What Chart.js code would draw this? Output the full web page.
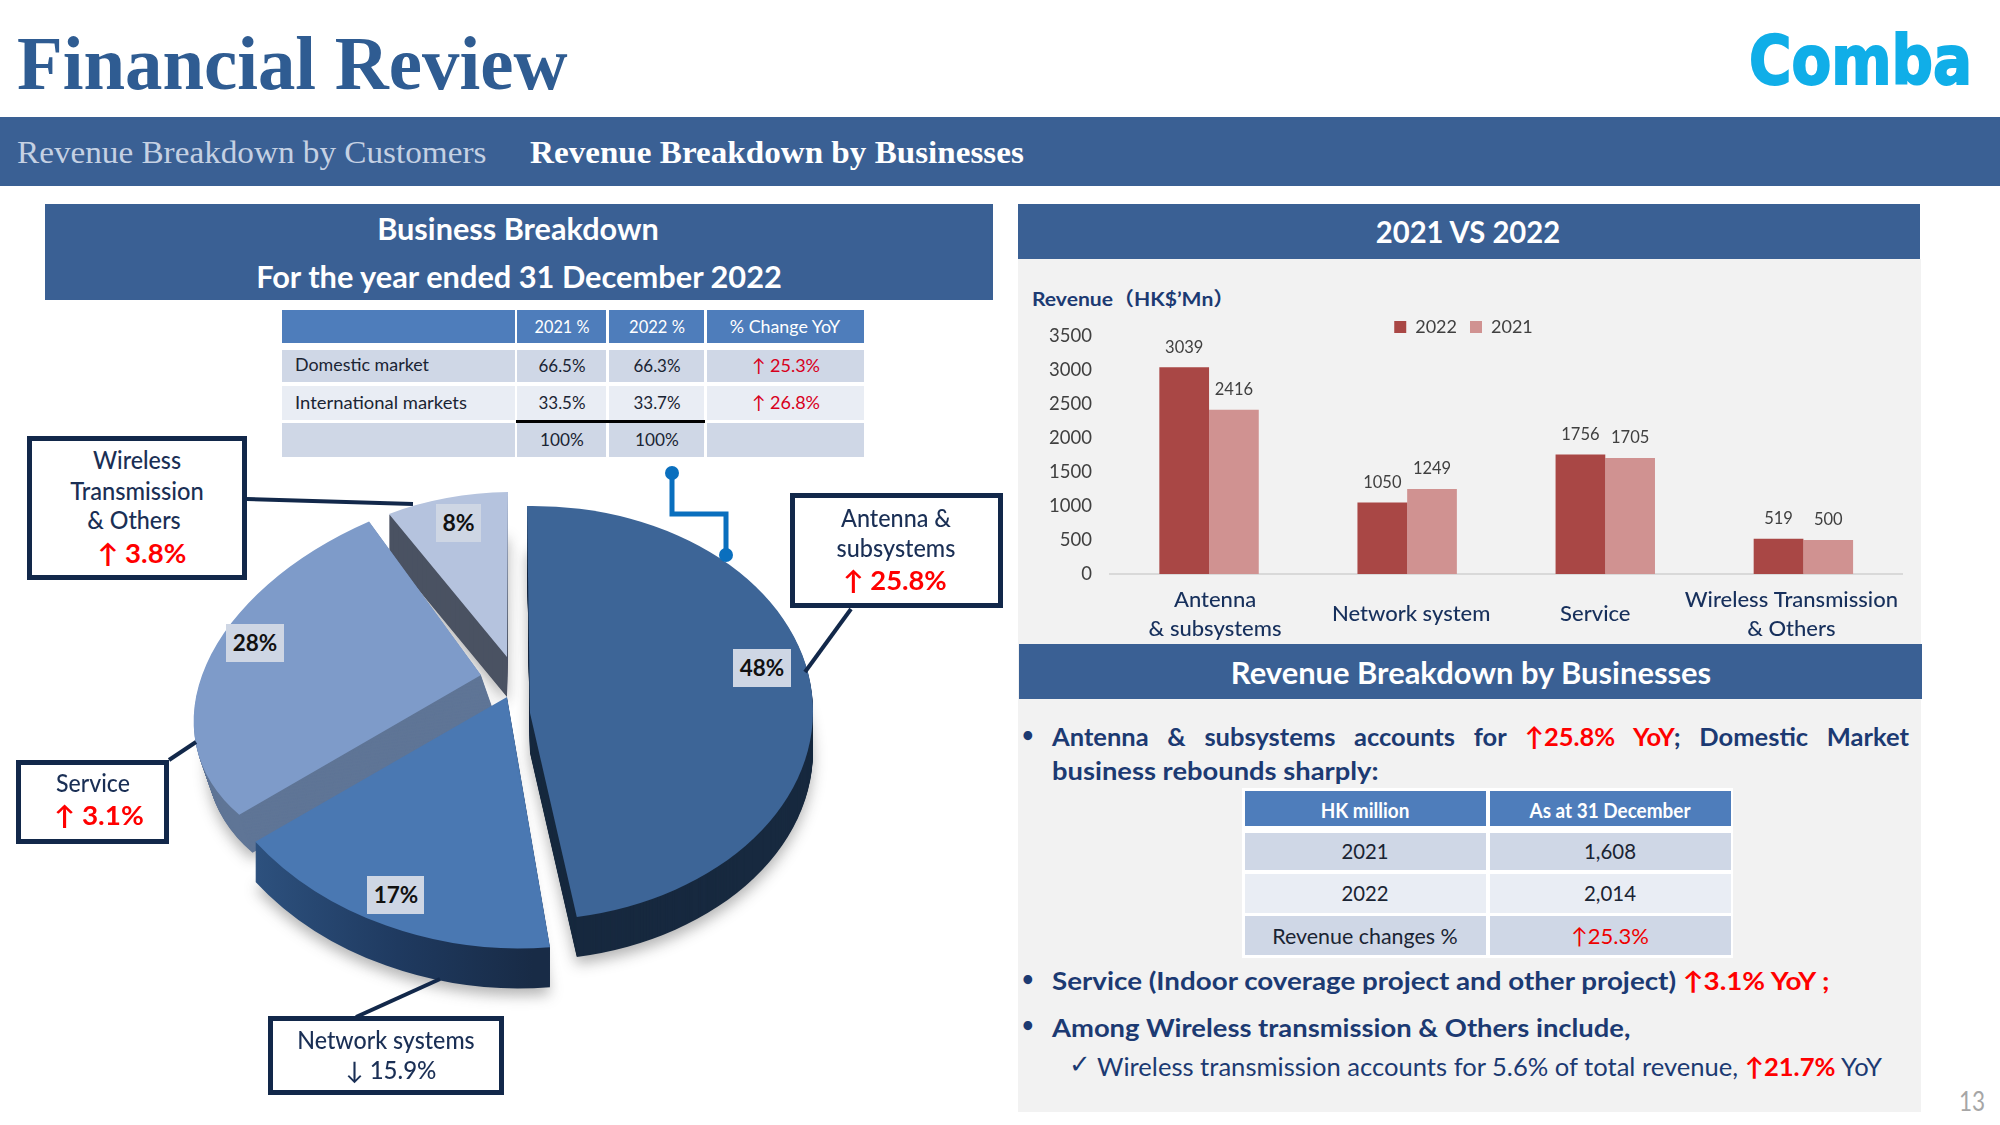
<!DOCTYPE html>
<html><head><meta charset="utf-8">
<script src="https://cdn.jsdelivr.net/npm/chart.js@4"></script>
<style>
html,body{margin:0;padding:0;background:#fff}
#s{position:relative;width:2000px;height:1125px;overflow:hidden;background:#fff;font-family:Lato,"Noto Sans CJK SC",sans-serif}
#s div{position:absolute;box-sizing:border-box}
#s canvas{position:absolute}
.r{color:#f00;font-weight:700}
</style></head><body><div id="s"></div>
<script>
// ---------- chart data ----------
const pieLabels=['Antenna & subsystems','Network systems','Service','Wireless Transmission & Others'];
const pieValues=[48,17,28,8];
const barCategories=[['Antenna','& subsystems'],'Network system','Service',['Wireless Transmission','& Others']];
const revenue2022=[3039,1050,1756,519];
const revenue2021=[2416,1249,1705,500];
const yTicks=[0,500,1000,1500,2000,2500,3000,3500];
// ---------- table data ----------
const marketHead=['','2021 %','2022 %','% Change YoY'];
const marketRows=[['Domestic market','66.5%','66.3%','25.3%'],['International markets','33.5%','33.7%','26.8%'],['','100%','100%','']];
const hkHead=['HK million','As at 31 December'];
const hkRows=[['2021','1,608'],['2022','2,014'],['Revenue changes %','↑25.3%']];
// ---------- styles ----------
const NAVY='#1c3a72',BOX='#12284a',HEAD='#3a6094',TH='#4e7dbb',R1='#cfd7e6',R2='#e9edf4';
const S=document.getElementById('s');
function rect(x,y,w,h,bg,extra){const d=document.createElement('div');d.style.cssText=`left:${x}px;top:${y}px;width:${w}px;height:${h}px;background:${bg};${extra||''}`;S.appendChild(d);return d;}
function T(html,x,y,o){o=o||{};const d=document.createElement('div');
 d.innerHTML=html;const c=o.align==='c';
 d.style.cssText=`left:${x}px;top:${y}px;white-space:nowrap;font-size:${o.size||20}px;color:${o.color||'#222'};font-weight:${o.weight||400};line-height:1.2;font-family:${o.font||'Lato,"Noto Sans CJK SC",sans-serif'};${o.extra||''}`;
 S.appendChild(d);
 let k=1;if(o.w){k=o.w/d.offsetWidth;}
 d.style.transformOrigin=c?'center center':'left center';
 d.style.transform=(c?'translate(-50%,-50%)':'translateY(-50%)')+` scaleX(${k})`;
 return d;}
const SERIF='"Liberation Serif",serif';
// header
T('Financial Review',17,64,{size:76,w:550,weight:700,font:SERIF,color:'#2f5c92'});
T('Comba',1749,61,{size:68,w:223,weight:700,font:'"DejaVu Sans"',color:'#10aee8',extra:'-webkit-text-stroke:2px #10aee8;'});
rect(0,117,2000,69,HEAD);
T('Revenue Breakdown by Customers',17,152,{size:32,w:469,font:SERIF,color:'#c5d1e3'});
T('Revenue Breakdown by Businesses',530,152,{size:32,w:494,weight:700,font:SERIF,color:'#fff'});
rect(45,204,948,96,HEAD);
T('Business Breakdown',518,228,{align:'c',size:30,w:282,weight:700,color:'#fff'});
T('For the year ended 31 December 2022',519,276,{align:'c',size:30,w:526,weight:700,color:'#fff'});
// market table
const mc=[[282,233],[517,89],[609,95],[707,157]];
const my=[[350,32],[386,34],[423,34]];
mc.forEach((c,i)=>rect(c[0],310,c[1],33,TH));
T(marketHead[1],562,327,{align:'c',size:18,w:55,color:'#fff'});
T(marketHead[2],657,327,{align:'c',size:18,w:56,color:'#fff'});
T(marketHead[3],785,327,{align:'c',size:18,w:110,color:'#fff'});
marketRows.forEach((row,r)=>{mc.forEach(c=>rect(c[0],my[r][0],c[1],my[r][1],r===1?R2:R1));
 const y=my[r][0]+my[r][1]/2;
 if(row[0])T(row[0],295,y-(r?0:1),{size:18,w:r?172:134,color:'#1a2433'});
 T(row[1],562,y,{align:'c',size:18,w:r==2?44:47,color:'#1a2433'});
 T(row[2],657,y,{align:'c',size:18,w:r==2?44:47,color:'#1a2433'});
 if(row[3])T('↑ '+row[3],786,y,{align:'c',size:18,w:68,color:'#d8001c'});});
rect(516,420,189,3,'#000');
// right panels
rect(1018,259,903,853,'#f2f2f2');
rect(1018,204,902,55,HEAD);
T('2021 VS 2022',1468,231,{align:'c',size:30,w:184,weight:700,color:'#fff'});
rect(1019,644,903,55,HEAD);
T('Revenue Breakdown by Businesses',1471,672,{align:'c',size:30,w:480,weight:700,color:'#fff'});
T('Revenue（HK$’Mn）',1032,299,{size:19,w:202,weight:700,color:NAVY});
// bar chart canvas
const barWrap=document.createElement('canvas');barWrap.width=906;barWrap.height=349;barWrap.style.cssText='left:1020px;top:295px;width:906px;height:349px';S.appendChild(barWrap);
const tickShift=[6,4,-10,-12];
const barValueLabels={id:'barValueLabels',afterDatasetsDraw(ch){const c=ch.ctx;c.save();c.font='16.5px Lato';c.fillStyle='#404040';c.textAlign='center';c.textBaseline='middle';
 ch.data.datasets.forEach((ds,i)=>{ch.getDatasetMeta(i).data.forEach((el,j)=>c.fillText(ds.data[j],el.x,el.y-20));});c.restore();}};
const moveLegend={id:'moveLegend',afterLayout(ch){const l=ch.legend;l.left+=-3;l.right+=-3;l.top+=10;l.bottom+=10;}};
new Chart(barWrap,{type:'bar',plugins:[barValueLabels,moveLegend],data:{labels:barCategories,datasets:[
 {label:'2022',data:revenue2022,backgroundColor:'#a94745',borderWidth:0},
 {label:'2021',data:revenue2021,backgroundColor:'#d09291',borderWidth:0}]},
 options:{responsive:false,animation:false,events:[],layout:{padding:{right:13,top:0,bottom:0,left:0}},
 datasets:{bar:{barPercentage:1,categoryPercentage:0.54}},
 plugins:{tooltip:{enabled:false},legend:{position:'top',labels:{boxWidth:12,boxHeight:12,padding:13,color:'#404040',font:{family:'Lato',size:18}}}},
 scales:{y:{min:0,max:3500,afterFit(s){s.width=90;},afterBuildTicks(s){s.ticks=yTicks.map(v=>({value:v}));},grid:{display:false,drawTicks:false},border:{display:false},ticks:{padding:18,color:'#404040',font:{family:'Lato',size:18.5},callback:v=>String(v)}},
 x:{afterFit(s){s.height=70;},afterBuildTicks(s){if(!s._shifted){const b=s.getPixelForTick;s.getPixelForTick=function(i){return b.call(s,i)+(tickShift[i]||0);};s._shifted=true;}},
 grid:{display:false,drawTicks:false},border:{display:true,color:'#d9d9d9',width:2},
 ticks:{padding:26,autoSkip:false,maxRotation:0,crossAlign:'center',color:'#17305c',font:{family:'Lato',size:22,weight:'500',lineHeight:1.3}}}}}});
// bullets
[736,980,1026].forEach(y=>T('•',1022,y-2,{size:20,color:NAVY,weight:700}));
const red=t=>`<span class="r">${t}</span>`;
T(`Antenna &amp; subsystems accounts for ${red('↑25.8% YoY')}; Domestic Market`,1052,736,{size:25.5,weight:700,color:NAVY,extra:'width:857px;white-space:normal;text-align:justify;text-align-last:justify;'});
T('business rebounds sharply:',1052,770,{size:25,w:327,weight:700,color:NAVY});
T(`Service (Indoor coverage project and other project) ${red('↑3.1% YoY ;')}`,1052,980,{size:25,w:777,weight:700,color:NAVY});
T('Among Wireless transmission &amp; Others include,',1052,1027,{size:25,w:578,weight:700,color:NAVY});
T('✓',1069,1065,{size:26,color:NAVY,font:'"DejaVu Sans"'});
T(`Wireless transmission accounts for 5.6% of total revenue, ${red('↑21.7%')} YoY`,1097,1066,{size:25,w:785,color:NAVY});
T('13',1959,1102,{size:26,w:26,color:'#a6a6a6'});
// HK table
rect(1242,788,491,170,'#fff');
const hc=[[1245,241],[1490,241]];
hc.forEach((c,i)=>{rect(c[0],791,c[1],35,TH);T(hkHead[i],i?1610:1365,810,{align:'c',size:20,w:i?161:89,weight:700,color:'#fff'});});
const hy=[[833,37],[874,39],[916,39]];
const hw=[[47,52],[47,52],[186,78]];
const hyText=[851,893,936];
hkRows.forEach((row,r)=>{hc.forEach((c,i)=>{rect(c[0],hy[r][0],c[1],hy[r][1],r===1?R2:R1);
 T(row[i],i?1610:1365,hyText[r],{align:'c',size:22,w:hw[r][i],color:(r==2&&i)?'#e00':'#1a2433'});});});
// ---------- pie chart ----------
// Screen projection of each exploded slice: origin and a 2x2 linear map that fakes the tilted 3-D view.
const sliceView=[
 {ox:530,oy:713,a:283,b:3,c:-4,d:207},
 {ox:507,oy:697,a:316,b:-6,c:14,d:251},
 {ox:481,oy:675,a:286,b:-28,c:-28,d:190},
 {ox:507,oy:657,a:249,b:-1,c:-4,d:165}];
const sliceDepth=[40,40,38,40];
const sliceLean=[0,0,.35,0];
const paintOrder=[3,2,1,0];
const CL=120,CT=460,CW=760,CH=600;
const pc=document.createElement('canvas');pc.width=CW;pc.height=CH;pc.style.cssText=`left:${CL}px;top:${CT}px;width:${CW}px;height:${CH}px`;S.appendChild(pc);
const wallColors=['#17293f','#1f3a60','#5f7596','#4a5262'];
const pie3d={id:'pie3d',beforeDatasetsDraw(ch){const c=ch.ctx,arcs=ch.getDatasetMeta(0).data;
 const paint=(arc,i,drop,col,shadow)=>{const v=sliceView[i],R=arc.outerRadius,o=arc.options;c.save();
  c.translate(v.ox-CL+drop*sliceLean[i],v.oy-CT+drop);c.transform(v.a/R,v.c/R,v.b/R,v.d/R,0,0);c.translate(-arc.x,-arc.y);
  if(shadow){c.shadowColor='rgba(40,40,40,.35)';c.shadowBlur=14;c.shadowOffsetY=7;}
  arc.options=Object.assign({},o,{backgroundColor:col,borderWidth:0});arc.draw(c);arc.options=o;c.restore();};
 paintOrder.forEach(i=>{const arc=arcs[i];let wall=wallColors[i];
  if(i===1){const g=c.createLinearGradient(arc.x-arc.outerRadius*.85,0,arc.x+arc.outerRadius*.1,0);g.addColorStop(0,'#2f5482');g.addColorStop(.55,'#1f3a60');g.addColorStop(1,'#182b46');wall=g;}
  for(let d=sliceDepth[i];d>=1;d--)paint(arc,i,d,wall,d===sliceDepth[i]);
  paint(arc,i,0,arc.options.backgroundColor,false);});
 return false;}};
new Chart(pc,{type:'pie',plugins:[pie3d],data:{labels:pieLabels,datasets:[{data:pieValues,backgroundColor:['#3d6597','#4a78b2','#7e9bc9','#b5c3de'],borderWidth:0}]},
 options:{responsive:false,animation:false,events:[],rotation:0,plugins:{legend:{display:false},tooltip:{enabled:false}}}});
// slice value tags
const tagBox=[[733,649,58,38],[367,876,57,38],[226,624,58,38],[436,504,45,38]];
pieValues.forEach((v,i)=>{const b=tagBox[i];rect(b[0],b[1],b[2],b[3],'#ced6e4');T(v+'%',b[0]+b[2]/2,b[1]+b[3]/2,{align:'c',size:23,weight:700,w:i===3?32:45,color:'#111'});});
// connectors
const svgNS='http://www.w3.org/2000/svg';const sv=document.createElementNS(svgNS,'svg');sv.setAttribute('width',2000);sv.setAttribute('height',1125);sv.style.cssText='position:absolute;left:0;top:0';
sv.innerHTML=`<g stroke="${BOX}" stroke-width="4" fill="none"><path d="M247 499L413 504"/><path d="M851 609L805 672"/><path d="M169 760L196 742"/><path d="M356 1017L440 979"/></g>
<path d="M672 473V514H726V555" stroke="#0a6fbe" stroke-width="5" fill="none"/><circle cx="672" cy="473" r="7" fill="#0a6fbe"/><circle cx="726" cy="555" r="7" fill="#0a6fbe"/>`;S.appendChild(sv);
// callouts
function box(x,y,w,h){rect(x,y,w,h,'#fff',`border:5px solid ${BOX}`);}
const navy={color:'#1a2f55',size:24,weight:500},redT={color:'#f00',size:26,weight:700};
box(27,436,220,144);
T('Wireless',137,460,{...navy,align:'c',w:88});T('Transmission',137,491,{...navy,align:'c',w:134});T('&amp; Others',134,520,{...navy,align:'c',w:93});T('↑ 3.8%',142,554,{...redT,align:'c',w:88});
box(790,493,213,115);
T('Antenna &amp;',896,518,{...navy,align:'c',w:110});T('subsystems',896,548,{...navy,align:'c',w:119});T('↑ 25.8%',895,581,{...redT,align:'c',w:104});
box(16,760,153,84);
T('Service',93,783,{...navy,align:'c',w:74});T('↑ 3.1%',99,816,{...redT,align:'c',w:89});
box(268,1016,236,79);
T('Network systems',386,1040,{...navy,align:'c',w:177});T('↓ 15.9%',391,1070,{...navy,align:'c',w:91});
</script></body></html>
